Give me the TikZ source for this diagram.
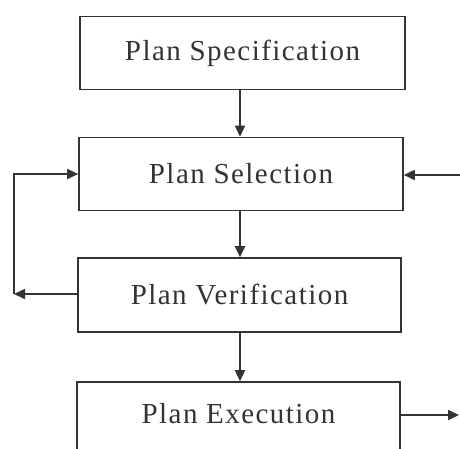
\documentclass[tikz,border=0pt]{standalone}
\usepackage{fontspec}
\setmainfont{Liberation Serif}[LetterSpace=5]
\usetikzlibrary{arrows.meta}
\definecolor{ink}{HTML}{333333}
\tikzset{
  stage/.style={draw=ink, line width=1.6pt, minimum width=323pt, minimum height=73pt,
                inner sep=0pt, font=\fontsize{29}{34}\selectfont, text=ink},
  flow/.style={draw=ink, line width=1.6pt, -{Triangle[length=11pt,width=10pt]}},
}
\begin{document}
\begin{tikzpicture}[x=1pt, y=-1pt]
  \useasboundingbox (0,0) rectangle (460,448);
  \clip (0,0) rectangle (460,448);
  \fill[white] (0,0) rectangle (460,448);

  % the four planning stages
  \node[stage, minimum width=325pt] (spec) at (242.5,53) {Plan Specification};
  \node[stage, minimum width=324pt] (sel)  at (241,174)  {Plan Selection};
  \node[stage, minimum height=74pt] (ver)  at (239.5,295) {Plan Verification};
  \node[stage, minimum height=74pt] (exe)  at (238.5,419) {\raisebox{11pt}{Plan Execution}};

  % main downward flow
  \draw[flow] (spec.south -| 240,0) -- (sel.north -| 240,0);
  \draw[flow] (sel.south -| 240,0) -- (ver.north -| 240,0);
  \draw[flow] (ver.south -| 240,0) -- (exe.north -| 240,0);

  % feedback loop from verification back to selection
  \coordinate (loopbot) at (14,294);
  \coordinate (looptop) at (14,174);
  \draw[flow] (ver.west |- loopbot) -- (loopbot);
  \draw[flow] (loopbot) -- (looptop) -- (sel.west |- looptop);

  % external input and output
  \coordinate (inR) at (462,175);
  \coordinate (outR) at (459,415);
  \draw[flow] (inR) -- (sel.east |- inR);
  \draw[flow] (exe.east |- outR) -- (outR);
\end{tikzpicture}
\end{document}
